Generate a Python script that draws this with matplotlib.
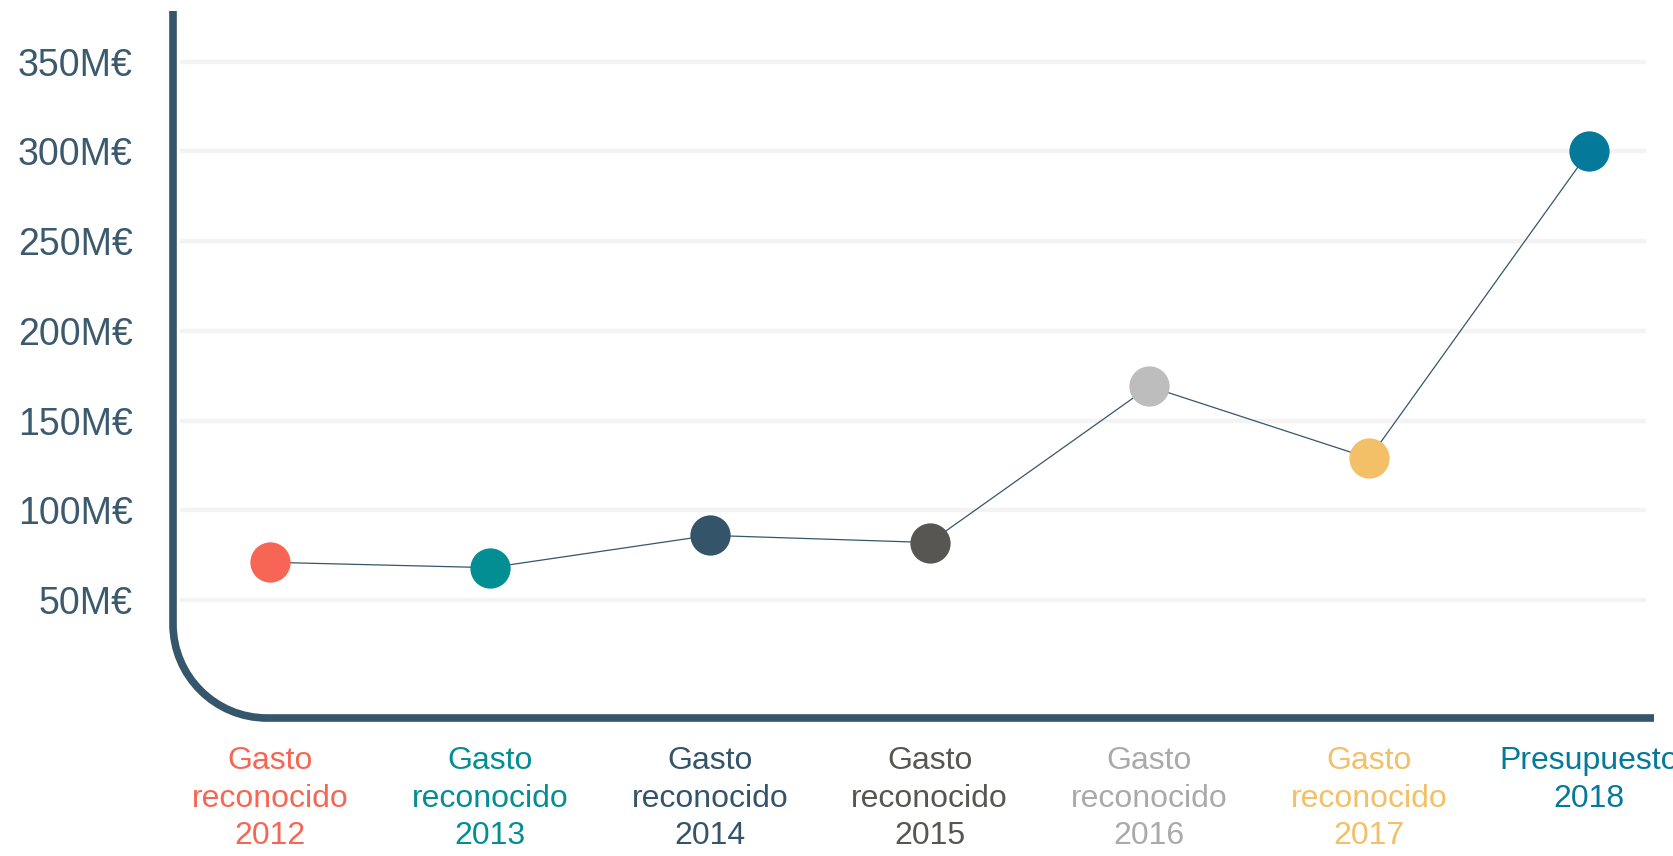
import matplotlib
matplotlib.use("agg")
import matplotlib.pyplot as plt
from matplotlib.path import Path
from matplotlib.patches import PathPatch

plt.rcParams["font.family"] = ["Liberation Sans", "DejaVu Sans"]

labels = [
    "Gasto\nreconocido\n2012",
    "Gasto\nreconocido\n2013",
    "Gasto\nreconocido\n2014",
    "Gasto\nreconocido\n2015",
    "Gasto\nreconocido\n2016",
    "Gasto\nreconocido\n2017",
    "Presupuesto\n2018",
]
values = [71, 68, 86, 82, 169, 129, 300]
colors = ["#F76655", "#038E94", "#34546A", "#575653", "#BDBDBD", "#F3BF67", "#04799A"]
label_colors = ["#F76655", "#038E94", "#34546A", "#575653", "#AAAAAA", "#F3BF67", "#04799A"]
yticks = [50, 100, 150, 200, 250, 300, 350]
ytick_labels = [f"{v}M€" for v in yticks]

AXIS = "#36566B"
W, H = 16.73, 8.56

fig = plt.figure(figsize=(W, H), dpi=100)
# axes in pixel coords: left 180, right 1646, top 11, bottom 718
ax = fig.add_axes([180 / 1673, (856 - 718) / 856, 1466 / 1673, 707 / 856])

x = list(range(len(values)))
ax.plot(x, values, color=AXIS, lw=0.9, zorder=2)
for xi, v, c in zip(x, values, colors):
    ax.plot(xi, v, "o", ms=29, color=c, mec="none", zorder=3)

ax.set_xlim(-0.410, 6.259)
ax.set_ylim(-15.8, 378.3)
ax.set_yticks(yticks)
ax.set_yticklabels(ytick_labels, fontsize=27, color="#3B5A6E")
ax.set_xticks(x)
ax.set_xticklabels(labels, fontsize=23, linespacing=1.34, va="top")
for t, c in zip(ax.get_xticklabels(), label_colors):
    t.set_color(c)
ax.tick_params(axis="both", length=0)
ax.tick_params(axis="y", pad=34)
ax.tick_params(axis="x", pad=20)
ax.grid(axis="y", color="#F3F3F3", lw=3.2)
ax.set_axisbelow(True)
for s in ax.spines.values():
    s.set_visible(False)

# rounded L-shaped axis line, drawn in inches
r = 0.94
k = 0.5523 * r
x0, ytop, ybot, xend = 1.73, H - 0.11, H - 7.18, 16.54
verts = [
    (x0, ytop), (x0, ybot + r),
    (x0, ybot + r - k), (x0 + r - k, ybot), (x0 + r, ybot),
    (xend, ybot),
]
codes = [Path.MOVETO, Path.LINETO, Path.CURVE4, Path.CURVE4, Path.CURVE4, Path.LINETO]
fig.add_artist(PathPatch(Path(verts, codes), fill=False, ec=AXIS, lw=5.5,
                         transform=fig.dpi_scale_trans, capstyle="butt"))

fig.savefig("out.png", dpi=100)
